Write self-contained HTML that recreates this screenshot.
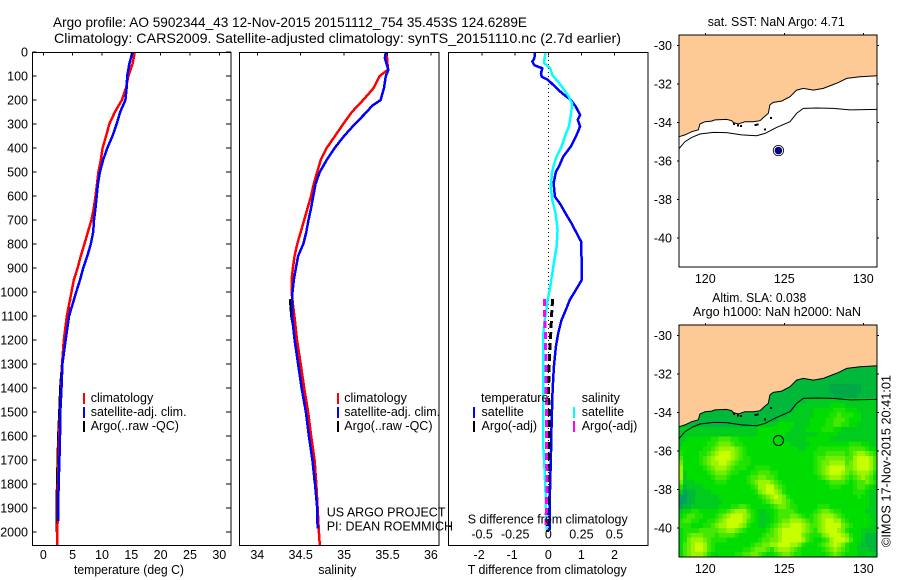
<!DOCTYPE html>
<html>
<head>
<meta charset="utf-8">
<title>Argo profile</title>
<style>
html,body{margin:0;padding:0;background:#fff;width:900px;height:580px;overflow:hidden}
svg{display:block}
text{font-family:"Liberation Sans",sans-serif;font-size:12.5px;fill:#000}
.c{shape-rendering:crispEdges}
</style>
</head>
<body>
<svg id="chart" xmlns="http://www.w3.org/2000/svg" width="900" height="580" viewBox="0 0 900 580">
  <rect x="0" y="0" width="900" height="580" fill="#fff"/>
  <text x="53" y="27" style="font-size:14px" textLength="474" lengthAdjust="spacingAndGlyphs">Argo profile: AO 5902344_43 12-Nov-2015 20151112_754 35.453S 124.6289E</text>
  <text x="54" y="43" style="font-size:14px" textLength="567" lengthAdjust="spacingAndGlyphs">Climatology: CARS2009. Satellite-adjusted climatology: synTS_20151110.nc (2.7d earlier)</text>

  <g id="g-temp"></g>
  <g id="g-sal"></g>
  <g id="g-diff"></g>
  <g id="g-map1"></g>
  <g id="g-map2"></g>

  <text x="74" y="574" textLength="110" lengthAdjust="spacingAndGlyphs">temperature (deg C)</text>
  <text x="337.3" y="574" text-anchor="middle">salinity</text>
  <text x="467.7" y="574" textLength="159" lengthAdjust="spacingAndGlyphs">T difference from climatology</text>
  <text x="467.7" y="523.5" textLength="160" lengthAdjust="spacingAndGlyphs">S difference from climatology</text>

  <g>
    <rect class="c" x="83" y="393" width="2" height="11" fill="#f00"/>
    <rect class="c" x="83" y="407" width="2" height="11" fill="#00f"/>
    <rect class="c" x="83" y="421" width="2" height="11" fill="#000"/>
    <text x="90.7" y="402">climatology</text>
    <text x="90.7" y="416">satellite-adj. clim.</text>
    <text x="90.7" y="430">Argo(..raw -QC)</text>
  </g>
  <g>
    <rect class="c" x="337" y="393" width="2" height="11" fill="#f00"/>
    <rect class="c" x="337" y="407" width="2" height="11" fill="#00f"/>
    <rect class="c" x="337" y="421" width="2" height="11" fill="#000"/>
    <text x="344.3" y="402">climatology</text>
    <text x="344.3" y="416">satellite-adj. clim.</text>
    <text x="344.3" y="430">Argo(..raw -QC)</text>
  </g>
  <text x="326.7" y="516.7">US ARGO PROJECT</text>
  <text x="326.7" y="530.7">PI: DEAN ROEMMICH</text>

  <g>
    <text x="481" y="402">temperature</text>
    <text x="481.5" y="416">satellite</text>
    <text x="481.5" y="430">Argo(-adj)</text>
    <text x="581.7" y="402">salinity</text>
    <text x="581.7" y="416">satellite</text>
    <text x="581.7" y="430">Argo(-adj)</text>
    <rect class="c" x="473" y="407" width="2" height="11" fill="#00f"/>
    <rect class="c" x="473" y="421" width="2" height="11" fill="#000"/>
    <rect class="c" x="573" y="407" width="2" height="11" fill="#0ff"/>
    <rect class="c" x="573" y="421" width="2" height="11" fill="#f0f"/>
  </g>

  <text x="707.7" y="26" textLength="137" lengthAdjust="spacingAndGlyphs">sat. SST: NaN Argo: 4.71</text>
  <text x="712.3" y="302" textLength="94" lengthAdjust="spacingAndGlyphs">Altim. SLA: 0.038</text>
  <text x="693" y="316" textLength="168" lengthAdjust="spacingAndGlyphs">Argo h1000: NaN h2000: NaN</text>
  <text transform="translate(890.7,547) rotate(-90)" textLength="172" lengthAdjust="spacingAndGlyphs">©IMOS 17-Nov-2015 20:41:01</text>
</svg>
<script>
// --- profile data (depth in m) ---
const depthTicks = [0,100,200,300,400,500,600,700,800,900,1000,1100,1200,1300,1400,1500,1600,1700,1800,1900,2000];
const tempTicks = [0,5,10,15,20,25,30];
const salTicks = [34,34.5,35,35.5,36];
const diffTTicks = [-2,-1,0,1,2];
const diffSTicks = [-0.5,-0.25,0,0.25,0.5];
const lonTicks = [120,125,130];
const latTicks = [-30,-32,-34,-36,-38,-40];

const tempClimDepths = [0,50,100,150,200,250,300,350,400,450,500,550,600,650,700,750,800,850,900,950,1000,1100,1200,1300,1400,1500,1600,1700,1800,1900,2000,2054];
const tempClim = [15.6,15.2,14.5,14.1,13.4,12.2,11.25,10.7,10.1,9.8,9.4,9.15,8.9,8.6,8.2,7.6,7.0,6.4,5.85,5.2,4.8,4.0,3.5,3.2,3.07,2.9,2.7,2.6,2.5,2.45,2.4,2.4];
const tempSatDepths = [0,50,100,150,200,250,300,350,400,450,500,550,600,650,700,750,800,850,900,950,1000,1100,1200,1300,1400,1500,1600,1700,1800,1900,1955];
const tempSat = [15.2,14.65,14.3,14.2,14.0,13.1,12.5,11.8,10.9,10.2,9.65,9.3,9.1,8.9,8.65,8.5,8.1,7.5,6.8,6.25,5.6,4.4,3.8,3.25,3.1,2.9,2.85,2.75,2.6,2.55,2.5];
const tempArgoDepths = [1030,1050,1100,1150,1200,1300,1400,1500,1600,1700,1800,1900,2000];
const tempArgo = [4.6,4.4,4.2,3.8,3.55,3.2,2.9,2.75,2.55,2.45,2.35,2.28,2.28];

const salClimDepths = [0,50,75,100,150,200,250,300,350,400,450,500,550,600,650,700,750,800,850,900,950,1000,1050,1100,1200,1300,1400,1500,1600,1700,1800,1900,2000,2054];
const salClim = [35.49,35.5,35.5,35.41,35.34,35.22,35.09,34.99,34.895,34.8,34.73,34.69,34.65,34.62,34.58,34.54,34.5,34.46,34.43,34.41,34.395,34.395,34.41,34.427,34.457,34.5,34.54,34.585,34.62,34.66,34.68,34.695,34.71,34.72];
const salSatDepths = [0,25,50,75,100,150,200,225,250,300,350,400,450,500,550,600,650,700,750,800,850,900,950,1000,1050,1100,1200,1300,1400,1500,1600,1700,1800,1900,1985];
const salSat = [35.48,35.47,35.49,35.51,35.48,35.46,35.42,35.32,35.26,35.125,35.0,34.89,34.8,34.72,34.67,34.645,34.62,34.59,34.565,34.53,34.47,34.445,34.42,34.405,34.4,34.4,34.43,34.47,34.51,34.56,34.595,34.635,34.665,34.69,34.695];
const salArgoDepths = [1030,1100,1200,1300,1400,1500,1600,1700,1800];
const salArgo = [34.38,34.395,34.445,34.485,34.53,34.57,34.615,34.645,34.665];

const diffTSatDepths = [0,25,40,55,68,89,103,117,144,172,200,228,262,283,311,353,394,436,478,499,547,603,631,672,714,756,790,881,950,992,1033,1068,1117,1172,1228,1311,1408,1547,1686,1825,1992];
const diffTSat = [-0.4,-0.42,-0.48,-0.42,-0.18,-0.22,-0.2,0,0.2,0.42,0.68,0.83,0.96,0.89,0.96,0.83,0.68,0.45,0.32,0.23,0.16,0.2,0.35,0.52,0.7,0.86,0.99,1.01,1.01,0.83,0.65,0.55,0.4,0.3,0.23,0.17,0.13,0.1,0.08,0.05,0.04];
const diffSSatDepths = [0,33,47,68,96,124,158,186,214,242,283,311,353,394,436,478,506,561,617,672,742,811,894,978,1033,1068,1131,1186,1408,1644,1714,1853,1992];
const diffSSat = [-0.02,-0.03,-0.03,0.015,0.03,0.075,0.12,0.155,0.18,0.175,0.165,0.155,0.125,0.1,0.063,0.038,0.028,0.018,0.03,0.055,0.07,0.063,0.038,0.015,-0.005,-0.013,-0.03,-0.04,-0.04,-0.038,-0.03,-0.02,-0.013];
const diffTArgoDepths = [1030,1050,1095,1165,1220,1290,1400,1530,1640,1780,1920,2000];
const diffTArgo = [0.12,0.12,0.1,0.08,0.05,0.03,0.01,0.02,0.02,0.0,-0.02,-0.02];
const diffSArgoDepths = [1030,1050,1220,1335,1450,1570,1680,1820,1970];
const diffSArgo = [-0.03,-0.03,-0.02,-0.018,-0.015,-0.013,-0.013,-0.01,-0.018];

// --- map data ---
const coastLon = [118.35,118.71,119.14,119.56,119.66,119.98,120.4,120.61,121.35,121.67,121.77,122.09,122.51,123.04,123.46,123.78,123.99,124.09,124.3,124.83,125.36,125.78,126.2,126.84,127.47,128.0,128.42,128.95,129.79,130.89];
const coastLat = [-34.73,-34.64,-34.47,-34.38,-34.07,-33.95,-33.92,-33.86,-33.83,-33.9,-34.0,-34.07,-33.95,-33.95,-33.9,-33.66,-33.52,-33.08,-32.95,-32.88,-32.65,-32.31,-32.22,-32.31,-32.22,-32.05,-31.92,-31.7,-31.61,-31.56];
const isobathLon = [118.35,118.71,119.14,119.66,120.51,121.35,122.3,123.25,123.78,124.51,125.36,125.78,126.2,127.05,128.1,129.16,130.89];
const isobathLat = [-35.34,-34.99,-34.77,-34.59,-34.51,-34.52,-34.64,-34.68,-34.56,-34.25,-33.95,-33.52,-33.26,-33.24,-33.26,-33.34,-33.31];
const speckLon = [121.75,122.0,122.2,123.1,123.25,124.1,123.7];
const speckLat = [-34.03,-34.1,-34.12,-34.08,-34.05,-33.72,-34.3];
const floatLon = 124.6289;
const floatLat = -35.453;

// sea-level anomaly class per 0.25 degree cell (0 low .. 9 high), north to south
const slaRows = [
"22222222222222222222222222222222222222222222222222",
"22222222222222222222222222222222222222222222222222",
"22222222222222222222222222222222222222222222222222",
"22222222222222222222222222222222222222222222222222",
"22222222222222222222222222222222222222111111112222",
"22222222222222222222222222222222222222111111112222",
"22222222222222222222222222222222222222211111122222",
"22222222222222222222222222222222333333333333333333",
"22222222222222222222222222222233333333444433333333",
"22222222222222222222222222222333334444455544433333",
"22222222222222222222222222233333334444556555443333",
"22222222222222222222222223333333344445566654443333",
"22222222222222222222333334444333344445566554433333",
"33333333333333333333444444443333444455544333333333",
"33333333333333333333444444433333333444443333333333",
"33444444556665544444444443333333444444333333333333",
"34444445567776554444444444443333344444444445554433",
"44444455678888765444444444444433444555555556666544",
"54444556789998765444444444444444445556666656788765",
"64444567899998765544444444444444445667777766899986",
"74444567889987655544444444444444445677888867899986",
"84444456788876555445555444444444445678999977899986",
"83444445677765544455666554444444445678999876788875",
"83444444566654444566776654444444444567888765678764",
"73334444455544444567888765444444444445666654566765",
"52333344444444444456889976544444444444555444566543",
"31223333444444444445789987544444444444444444555433",
"10223333334444444444567898754444444444444444454433",
"01223333333444444444456788765444444444444444444433",
"12233333334445566544444567765544444555444444444433",
"34455444445567888654334456666544445677655444444333",
"45665544456789998754333456667765456788876544444433",
"56655445567899998654333456778887656789988654444443",
"55544455678899987544334567889998766789999765444433",
"45555666667788765444445678999998765789998754443333",
"45677766656666544444456678999997655578999875443222",
"45788876555544444444566778999998654456899986443222",
"46789986544444444456677889998875444567898754432222",
"46789986544444445567776578887654444456787654433322",
"46788875434444556677654456776554444445676544433333"
];
const slaPalette = ["#009a70","#00a848","#00b93a","#00cc1e","#00dd00","#1ee200","#44e800","#70ee00","#9cf500","#c8ff00"];
const heatLon0 = 118.35;
const heatLat0 = -31.5;
const heatStep = 0.25;

// --- scales ---
const NS = "http://www.w3.org/2000/svg";
const yDepth = d => 52 + 0.24 * d;
const xTemp = v => 43.3 + 5.867 * v;
const xSal = v => 257.3 + 86.8 * (v - 34);
const xDiffT = v => 548.3 + 33.1 * v;
const xDiffS = v => 548.3 + 132.4 * v;
const xLon = v => 705.3 + 15.8 * (v - 120);
const yLat = (v, top) => top + 10.7 + 19.23 * (-30 - v);

function mk(parent, tag, attrs, txt) {
  const e = document.createElementNS(NS, tag);
  for (const k in attrs) e.setAttribute(k, attrs[k]);
  if (txt !== undefined) e.textContent = txt;
  parent.appendChild(e);
  return e;
}
function polyPoints(xs, ys, fx, fy) {
  return xs.map((v, i) => fx(v).toFixed(1) + "," + fy(ys[i]).toFixed(1)).join(" ");
}
function series(parent, name, values, depths, fx, color, width, dash) {
  const attrs = {points: polyPoints(values, depths, fx, yDepth), fill: "none", stroke: color, "stroke-width": width, "stroke-linejoin": "miter", "shape-rendering": "crispEdges"};
  if (dash) attrs["stroke-dasharray"] = dash;
  const line = mk(parent, "polyline", attrs);
  
  
}
function tick(parent, x1, y1, x2, y2) {
  const t = mk(parent, "line", {x1, y1, x2, y2, stroke: "#000", "stroke-width": 1, class: "c"});
  
  
}
function label(parent, x, y, anchor, s) {
  const t = mk(parent, "text", {x, y, "text-anchor": anchor}, s);
  
  
}
function frame(parent, x, y, w, h) {
  const r = mk(parent, "rect", {x, y, width: w, height: h, fill: "none", stroke: "#000", "stroke-width": 1, class: "c"});
  
  
}

// --- temperature panel ---
const gT = document.getElementById("g-temp");
series(gT, "temperature-argo-line", tempArgo, tempArgoDepths, xTemp, "#000", 2.5);
series(gT, "temperature-climatology-line", tempClim, tempClimDepths, xTemp, "#f00", 2.5);
series(gT, "temperature-satellite-line", tempSat, tempSatDepths, xTemp, "#00f", 2.5);
frame(gT, 32.5, 52.5, 198.5, 493);
depthTicks.forEach(d => {
  tick(gT, 32.5, yDepth(d), 36.5, yDepth(d));
  tick(gT, 231, yDepth(d), 226, yDepth(d));
  label(gT, 28, yDepth(d) + 4.5, "end", String(d));
});
tempTicks.forEach(v => {
  tick(gT, xTemp(v), 52.5, xTemp(v), 55.5);
  label(gT, xTemp(v), 559, "middle", String(v));
});

// --- salinity panel ---
const gS = document.getElementById("g-sal");
series(gS, "salinity-argo-line", salArgo, salArgoDepths, xSal, "#000", 3);
series(gS, "salinity-climatology-line", salClim, salClimDepths, xSal, "#f00", 2.5);
series(gS, "salinity-satellite-line", salSat, salSatDepths, xSal, "#00f", 2.5);
frame(gS, 239.5, 52.5, 199.5, 493);
salTicks.forEach(v => {
  tick(gS, xSal(v), 52.5, xSal(v), 55.5);
  label(gS, xSal(v), 559, "middle", String(v));
});

// --- difference panel ---
const gD = document.getElementById("g-diff");
const zero = mk(gD, "line", {x1: xDiffT(0), y1: 52, x2: xDiffT(0), y2: 532, stroke: "#000", "stroke-width": 1, "stroke-dasharray": "1 3", class: "c"});


series(gD, "difference-t-satellite-line", diffTSat, diffTSatDepths, xDiffT, "#00f", 2.5);
series(gD, "difference-s-satellite-line", diffSSat, diffSSatDepths, xDiffS, "#0ff", 2.5);
series(gD, "difference-t-argo-line", diffTArgo, diffTArgoDepths, xDiffT, "#000", 3, "7 4");
series(gD, "difference-s-argo-line", diffSArgo, diffSArgoDepths, xDiffS, "#f0f", 3, "7 4");
frame(gD, 448.5, 52.5, 199.5, 493);
diffTTicks.forEach(v => {
  tick(gD, xDiffT(v), 52.5, xDiffT(v), 55.5);
  label(gD, xDiffT(v) - (v < 0 ? 3 : 0), 559, "middle", String(v));
});
diffSTicks.forEach(v => {
  label(gD, xDiffS(v), 538.3, "middle", String(v));
});
tick(gD, 448.5, 526.5, 451, 526.5);
tick(gD, 451.5, 523, 451.5, 530);

// --- maps ---
function drawMap(group, top, withHeat) {
  const left = xLon(118.35), right = xLon(130.88), bottom = top + 232;
  if (withHeat) {
    slaRows.forEach((row, r) => {
      for (let c = 0; c < row.length && c < 50; c++) {
        const lon = heatLon0 + heatStep * c;
        const lat = heatLat0 - heatStep * r;
        const x0 = xLon(lon);
        const y0 = yLat(lat, top);
        const w = Math.min(xLon(lon + heatStep) - x0 + 0.6, right - x0);
        const h = Math.min(yLat(lat - heatStep, top) - y0 + 0.6, bottom - y0);
        const cell = mk(group, "rect", {x: x0.toFixed(2), y: y0.toFixed(2), width: w.toFixed(2), height: h.toFixed(2), fill: slaPalette[+row[c]], class: "c"});
        
        
      }
    });
  }
  const fy = v => yLat(v, top);
  const land = mk(group, "polygon", {points: polyPoints(coastLon, coastLat, xLon, fy) + " " + right + "," + top + " " + left + "," + top, fill: "#fdca96", stroke: "none"});
  
  
  const coast = mk(group, "polyline", {points: polyPoints(coastLon, coastLat, xLon, fy), fill: "none", stroke: "#000", "stroke-width": 1});
  
  
  const iso = mk(group, "polyline", {points: polyPoints(isobathLon, isobathLat, xLon, fy), fill: "none", stroke: "#000", "stroke-width": 1});
  
  
  speckLon.forEach((lon, i) => {
    const s = mk(group, "rect", {x: xLon(lon), y: fy(speckLat[i]), width: 2, height: 2, fill: "#000", class: "c"});
    
    
  });
  if (withHeat) {
    const ring = mk(group, "circle", {cx: xLon(floatLon), cy: fy(floatLat), r: 5, fill: "none", stroke: "#000", "stroke-width": 1});
    
    
  } else {
    const ring = mk(group, "circle", {cx: xLon(floatLon), cy: fy(floatLat), r: 5.2, fill: "#fff", stroke: "#000", "stroke-width": 0.8});
    
    
    const dot = mk(group, "circle", {cx: xLon(floatLon), cy: fy(floatLat), r: 3.8, fill: "#000080"});
    
    
  }
  frame(group, left, top, right - left, 232);
  latTicks.forEach(v => {
    tick(group, left - 2, fy(v), left, fy(v));
    tick(group, right, fy(v), right + 2, fy(v));
    label(group, 672, fy(v) + 4.5, "end", String(v));
  });
  lonTicks.forEach(v => {
    tick(group, xLon(v), top - 2, xLon(v), top);
    label(group, xLon(v), top + 248, "middle", String(v));
  });
}
drawMap(document.getElementById("g-map1"), 35, false);
drawMap(document.getElementById("g-map2"), 325, true);
</script>
</body>
</html>
